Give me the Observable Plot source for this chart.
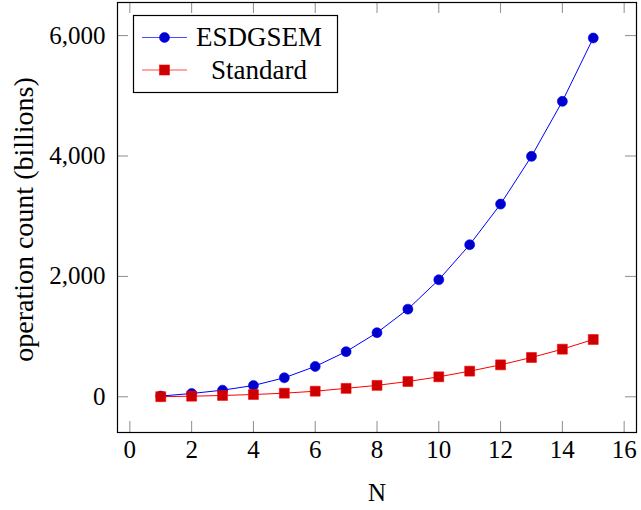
<!DOCTYPE html>
<html>
<head>
<meta charset="utf-8">
<script src="https://cdn.jsdelivr.net/npm/d3@7"></script>
<script src="https://cdn.jsdelivr.net/npm/@observablehq/plot@0.6"></script>
<style>
  html, body { margin: 0; padding: 0; background: #fff; }
</style>
</head>
<body>
<div id="chart"></div>
<script>
// Polynomial order N and operation counts (billions) for both schemes
const orders = [1, 2, 3, 4, 5, 6, 7, 8, 9, 10, 11, 12, 13, 14, 15];
const esdgsem = [12, 55, 110, 188, 316, 504, 750, 1065, 1456, 1944, 2526, 3201, 3994, 4908, 5960];
const standard = [2, 10, 22, 38, 60, 93, 140, 190, 254, 332, 426, 531, 653, 791, 952];
const xTicks = [0, 2, 4, 6, 8, 10, 12, 14, 16];
const yTicks = [0, 2000, 4000, 6000];
const seriesNames = ["ESDGSEM", "Standard"];

const rows = (vals, name) => orders.map((n, i) => ({N: n, ops: vals[i], series: name}));
const esRows = rows(esdgsem, seriesNames[0]);
const stRows = rows(standard, seriesNames[1]);

const FONT = "Liberation Serif";
const FS = 25;      // tick labels and x title
const FS_TXT = 27;  // legend entries
const FS_YT = 28;   // y title
const BLUE = "#0000ff", BLUE_FILL = "#0000cc";
const RED = "#ff0000", RED_FILL = "#cc0000";
const TICK = "#8c8c8c";

const chart = Plot.plot({
  width: 641,
  height: 510,
  marginLeft: 117,
  marginRight: 5,
  marginTop: 2,
  marginBottom: 78,
  style: {fontFamily: FONT, fontSize: FS + "px", background: "#fff", color: "#000"},
  x: {domain: [-0.4, 16.4]},
  y: {domain: [-593, 6550]},
  marks: [
    // inward ticks on all four sides
    Plot.tickX(xTicks, {x: d => d, insetTop: 419, stroke: TICK}),
    Plot.tickX(xTicks, {x: d => d, insetBottom: 419, stroke: TICK}),
    Plot.tickY(yTicks, {y: d => d, insetRight: 508, stroke: TICK}),
    Plot.tickY(yTicks, {y: d => d, insetLeft: 508, stroke: TICK}),
    Plot.axisX({ticks: xTicks, tickSize: 0, tickPadding: 8, label: null, fontSize: FS, tickFormat: d3.format("d")}),
    Plot.axisY({ticks: yTicks, tickSize: 0, tickPadding: 12, label: null, fontSize: FS, tickFormat: d3.format(",")}),
    // curves
    Plot.line(esRows, {x: "N", y: "ops", stroke: BLUE, strokeWidth: 1}),
    Plot.line(stRows, {x: "N", y: "ops", stroke: RED, strokeWidth: 1}),
    Plot.dot(esRows, {x: "N", y: "ops", r: 5, symbol: "circle", fill: BLUE_FILL, stroke: BLUE, strokeWidth: 0.6}),
    Plot.dot(stRows, {x: "N", y: "ops", r: 5.6, symbol: "square", fill: RED_FILL, stroke: RED, strokeWidth: 0.6}),
    // axis titles
    Plot.text(["N"], {frameAnchor: "bottom", dy: 68, lineAnchor: "bottom", fontSize: FS}),
    Plot.text(["operation count (billions)"], {frameAnchor: "left", dx: -85, dy: 2, rotate: -90, textAnchor: "middle", lineAnchor: "bottom", fontSize: FS_YT}),
    Plot.frame({stroke: "#000", strokeWidth: 1.2})
  ]
});

document.getElementById("chart").appendChild(chart);

// legend box in the upper left of the frame
const svg = d3.select(chart);
const lg = svg.append("g").attr("font-family", FONT).attr("font-size", FS_TXT);
lg.append("rect")
  .attr("x", 133.5).attr("y", 15.5).attr("width", 204).attr("height", 77)
  .attr("fill", "#fff").attr("stroke", "#000").attr("stroke-width", 1.2);
const entries = [
  {name: seriesNames[0], stroke: BLUE, fill: BLUE_FILL, shape: "circle", cy: 37.5},
  {name: seriesNames[1], stroke: RED, fill: RED_FILL, shape: "square", cy: 70}
];
entries.forEach(e => {
  lg.append("line")
    .attr("x1", 142).attr("x2", 187).attr("y1", e.cy).attr("y2", e.cy)
    .attr("stroke", e.stroke).attr("stroke-opacity", 0.7).attr("stroke-width", 1.2);
  if (e.shape === "circle") {
    lg.append("circle").attr("cx", 164.5).attr("cy", e.cy).attr("r", 5)
      .attr("fill", e.fill).attr("stroke", e.stroke).attr("stroke-width", 0.6);
  } else {
    lg.append("rect").attr("x", 159.5).attr("y", e.cy - 5).attr("width", 10).attr("height", 10)
      .attr("fill", e.fill).attr("stroke", e.stroke).attr("stroke-width", 0.6);
  }
  lg.append("text").attr("x", 259).attr("y", e.cy).attr("dy", "0.32em")
    .attr("text-anchor", "middle").attr("fill", "#000").text(e.name);
});
</script>
</body>
</html>
